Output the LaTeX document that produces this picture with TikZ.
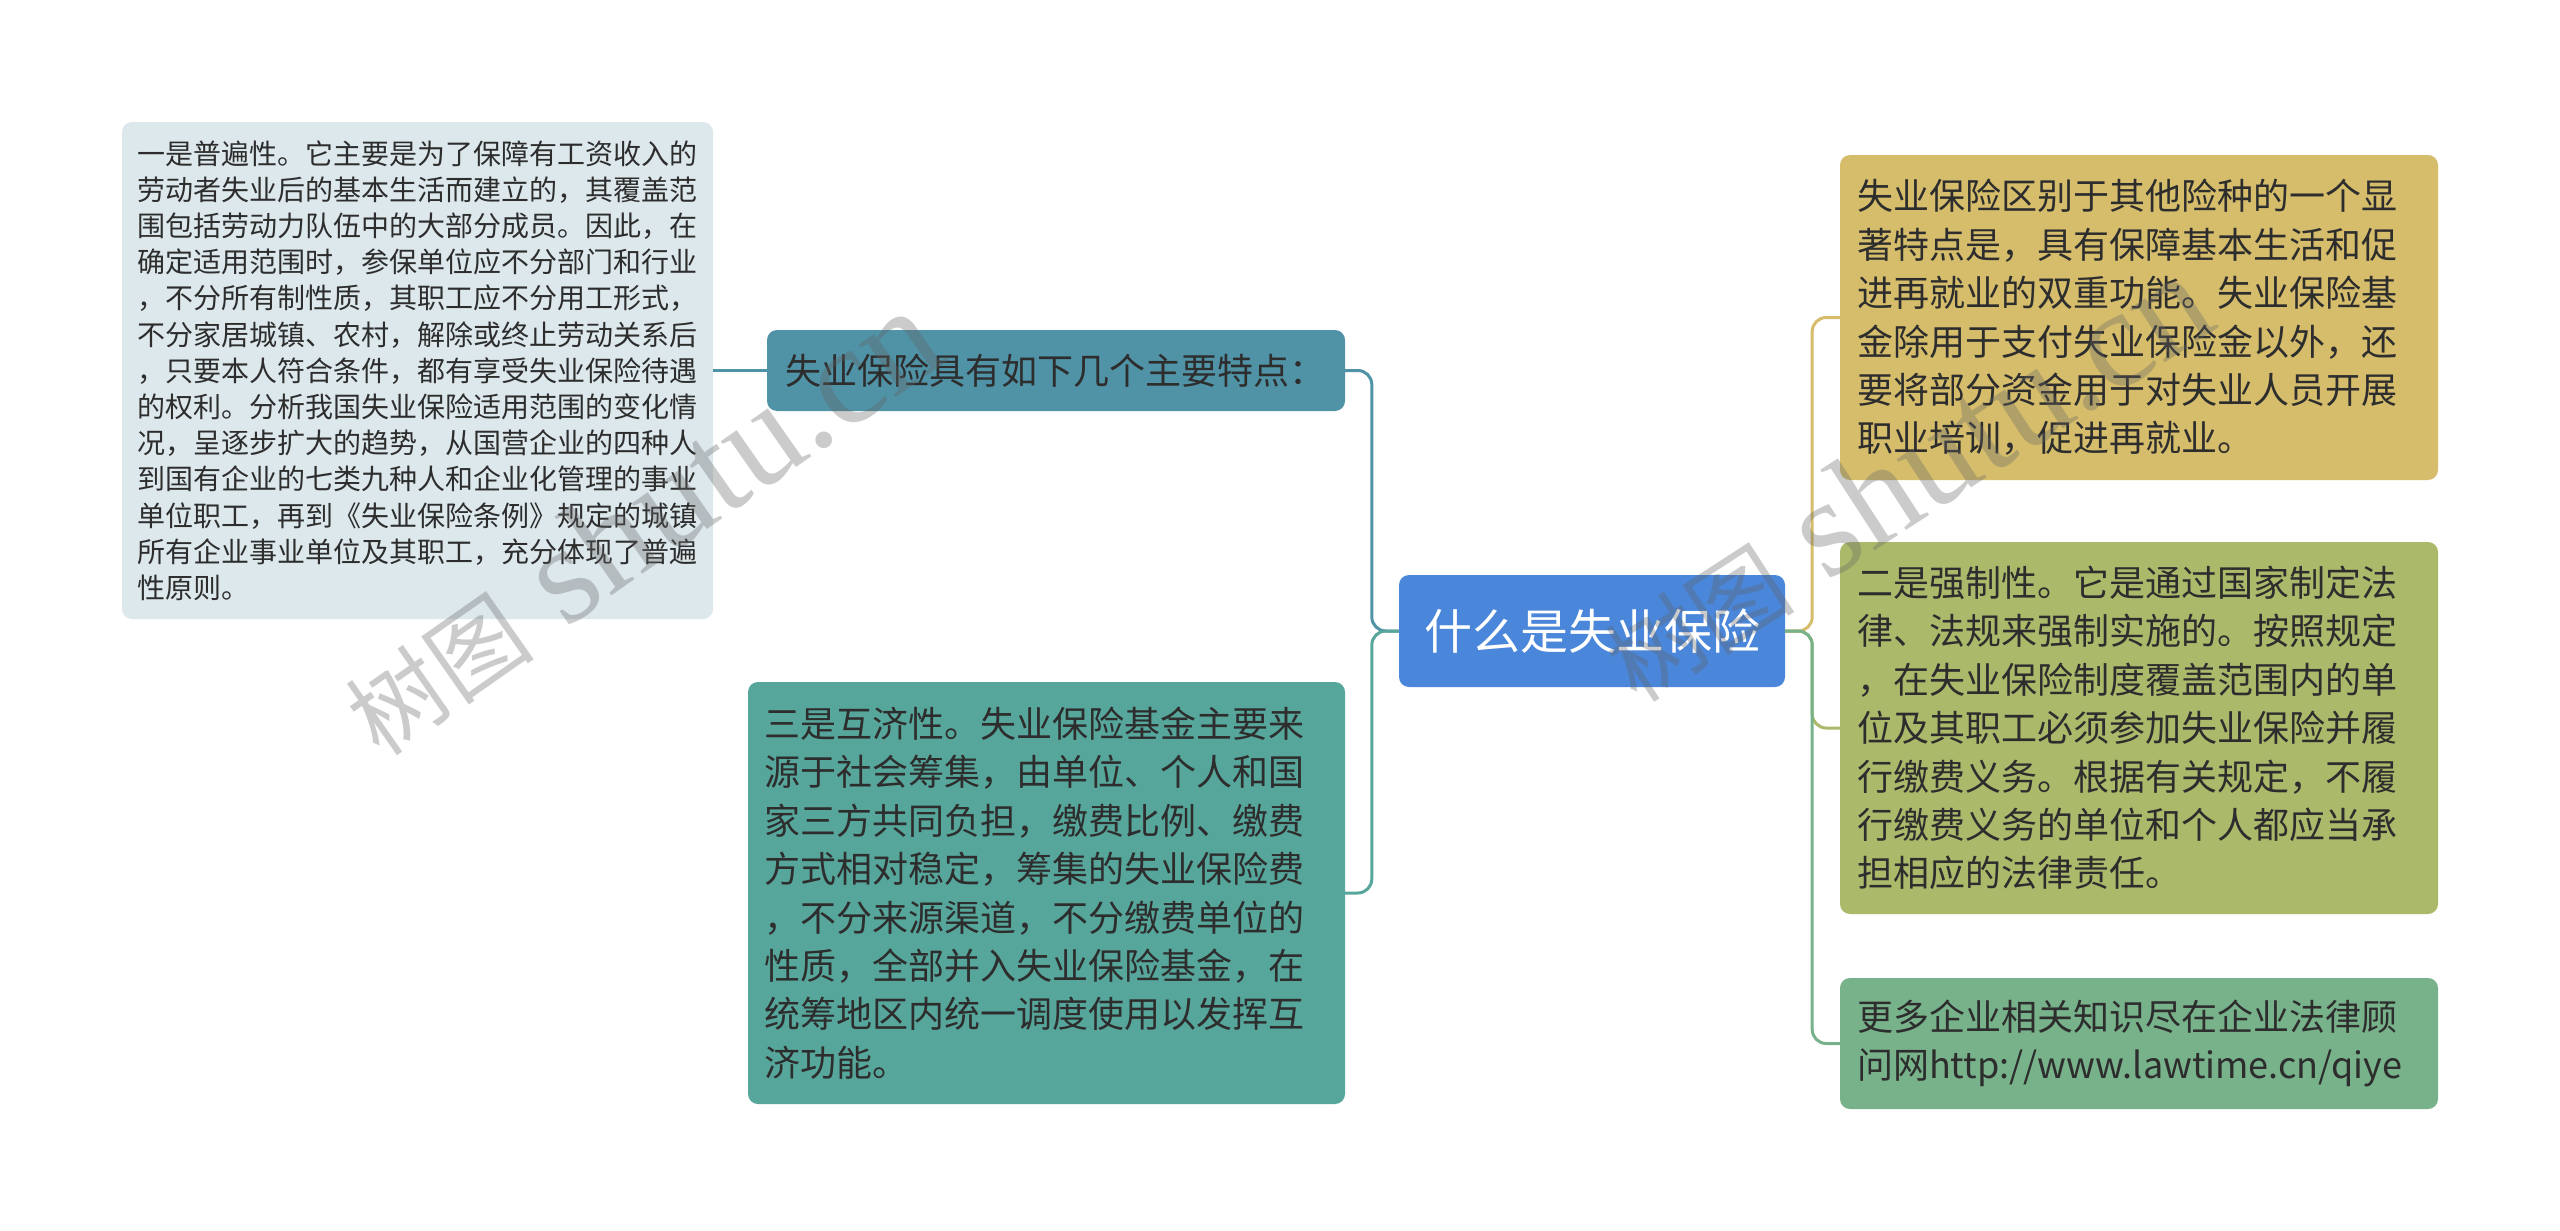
\documentclass[tikz,border=0pt]{standalone}
\usepackage{fontspec}
\setmainfont{Noto Sans CJK SC}
\newfontfamily\wmlatin{Liberation Serif}
\definecolor{txt}{RGB}{45,45,45}
\definecolor{cLeft}{RGB}{221,232,236}
\definecolor{cFeat}{RGB}{80,146,166}
\definecolor{cMut}{RGB}{87,166,155}
\definecolor{cCenter}{RGB}{74,134,217}
\definecolor{cGold}{RGB}{213,189,108}
\definecolor{cOlive}{RGB}{171,185,107}
\definecolor{cGreen}{RGB}{120,178,139}
\definecolor{wm}{RGB}{100,100,100}
\begin{document}
\begin{tikzpicture}[x=1pt,y=-1pt,
  box/.style={rectangle, rounded corners=10pt, inner xsep=17pt, inner ysep=0pt,
    align=left, text=txt, anchor=center},
  bigtext/.style={font=\fontsize{36}{48.4}\selectfont},
  link/.style={line width=3pt, rounded corners=14pt},
  wmark/.style={text=wm, opacity=0.33, inner sep=0pt}]
\useasboundingbox[fill=white] (0,0) rectangle (2560,1231);

% central topic
\node[box, fill=cCenter, text=white, align=center, minimum width=386pt, minimum height=112pt,
  font=\fontsize{48}{56}\selectfont] (center) at (1592,631) {什么是失业保险};

% left side
\node[box, fill=cFeat, inner xsep=18pt, text width=542pt, minimum height=81pt, bigtext]
  (feat) at (1056,370.5) {失业保险具有如下几个主要特点：};

\node[box, fill=cLeft, inner xsep=15pt, text width=561pt, minimum height=497pt,
  font=\fontsize{28}{36.2}\selectfont] (left) at (417.5,370.5) {一是普遍性。它主要是为了保障有工资收入的\\
劳动者失业后的基本生活而建立的，其覆盖范\\
围包括劳动力队伍中的大部分成员。因此，在\\
确定适用范围时，参保单位应不分部门和行业\\
，不分所有制性质，其职工应不分用工形式，\\
不分家居城镇、农村，解除或终止劳动关系后\\
，只要本人符合条件，都有享受失业保险待遇\\
的权利。分析我国失业保险适用范围的变化情\\
况，呈逐步扩大的趋势，从国营企业的四种人\\
到国有企业的七类九种人和企业化管理的事业\\
单位职工，再到《失业保险条例》规定的城镇\\
所有企业事业单位及其职工，充分体现了普遍\\
性原则。};

\node[box, fill=cMut, inner xsep=16pt, text width=565pt, minimum height=422pt, bigtext]
  (mutual) at (1046.5,893) {三是互济性。失业保险基金主要来\\
源于社会筹集，由单位、个人和国\\
家三方共同负担，缴费比例、缴费\\
方式相对稳定，筹集的失业保险费\\
，不分来源渠道，不分缴费单位的\\
性质，全部并入失业保险基金，在\\
统筹地区内统一调度使用以发挥互\\
济功能。};

% right side
\node[box, fill=cGold, text width=564pt, minimum height=325pt, bigtext]
  (gold) at (2139,317.5) {失业保险区别于其他险种的一个显\\
著特点是，具有保障基本生活和促\\
进再就业的双重功能。失业保险基\\
金除用于支付失业保险金以外，还\\
要将部分资金用于对失业人员开展\\
职业培训，促进再就业。};

\node[box, fill=cOlive, text width=564pt, minimum height=372pt, bigtext]
  (olive) at (2139,728) {二是强制性。它是通过国家制定法\\
律、法规来强制实施的。按照规定\\
，在失业保险制度覆盖范围内的单\\
位及其职工必须参加失业保险并履\\
行缴费义务。根据有关规定，不履\\
行缴费义务的单位和个人都应当承\\
担相应的法律责任。};

\node[box, fill=cGreen, text width=564pt, minimum height=131pt, bigtext]
  (green) at (2139,1043.5) {更多企业相关知识尽在企业法律顾\\
问网http://www.lawtime.cn/qiye};

% connectors
\draw[link, cFeat] (center.west) -- ++(-27,0) |- (feat.east);
\draw[link, cMut] (center.west) -- ++(-27,0) |- (mutual.east);
\draw[link, cFeat] (feat.west) -- (left.east);
\draw[link, cGold] (center.east) -- ++(27,0) |- (gold.west);
\draw[link, cOlive] (center.east) -- ++(27,0) |- (olive.west);
\draw[link, cGreen] (center.east) -- ++(27,0) |- (green.west);

% watermarks
\node[wmark, rotate=35] (wm1) at (640,522) {{\fontsize{95}{95}\selectfont 树图}{\wmlatin\fontsize{140}{140}\selectfont\ shutu.cn}};
\node[wmark, rotate=33] (wm2) at (1905,478) {{\fontsize{95}{95}\selectfont 树图}{\wmlatin\fontsize{140}{140}\selectfont\ shutu.cn}};
\end{tikzpicture}
\end{document}
